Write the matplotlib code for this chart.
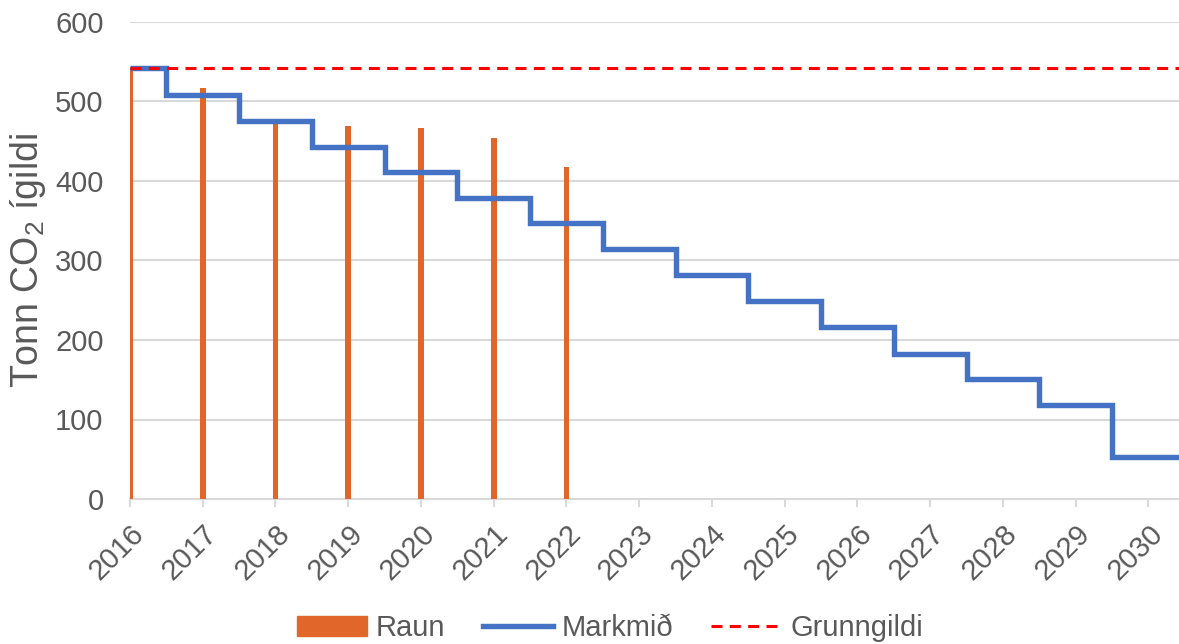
import numpy as np
import matplotlib
matplotlib.use("Agg")
import matplotlib.pyplot as plt
from matplotlib.patches import Patch
from matplotlib.lines import Line2D

plt.rcParams['font.family'] = ['Liberation Sans', 'DejaVu Sans']
plt.rcParams['mathtext.fontset'] = 'custom'
plt.rcParams['mathtext.rm'] = 'Liberation Sans'

years = np.arange(2016, 2031)
raun_years = np.arange(2016, 2023)
raun = [542, 517, 473, 469, 467, 454, 418]
markmid = [542, 508, 476, 443, 411, 379, 347, 314, 282, 249, 216, 183, 151, 118, 53]
grunngildi = 542

yticks = [0, 100, 200, 300, 400, 500, 600]

GRAY = '#595959'
fig = plt.figure(figsize=(11.79, 6.44), dpi=100)
ax = fig.add_axes([130/1179, (644-499)/644, 1 - 130/1179, (499-22)/644])

xmax = 2030.42
ax.set_xlim(2016, xmax)
ax.set_ylim(0, 600)

for y in yticks[1:]:
    ax.axhline(y, color='#d9d9d9', lw=1.5, zorder=0)

ax.bar(raun_years, raun, width=0.08, color='#E0662A', zorder=2)

edges = np.r_[years[0], years[:-1] + 0.5, xmax + 0.5]
ax.stairs(markmid, edges, baseline=None, color='#4472C4', lw=3.9, zorder=3)

dash = (0, (3.6, 2.4))
ax.axhline(grunngildi, color='#FF0000', lw=2.2, ls=dash, zorder=4)

for s in ['left', 'right', 'top']:
    ax.spines[s].set_visible(False)
ax.spines['bottom'].set_color('#d9d9d9')
ax.spines['bottom'].set_linewidth(1.5)
ax.spines['bottom'].set_zorder(1)

ax.set_xticks(years)
ax.set_xticklabels([str(y) for y in years], rotation=45, ha='right',
                   rotation_mode='anchor', fontsize=21, color=GRAY)
ax.tick_params(axis='x', length=6, width=1.5, color='#d9d9d9', pad=9)
ax.set_yticks(yticks)
ax.set_yticklabels([str(y) for y in yticks], fontsize=21, color=GRAY)
ax.tick_params(axis='y', length=0, pad=19)

ax.set_ylabel(r'Tonn CO$_\mathregular{2}$ ígildi', fontsize=27, color=GRAY, labelpad=5)

handles = [Patch(color='#E0662A'),
           Line2D([0], [0], color='#4472C4', lw=3.9),
           Line2D([0], [0], color='#FF0000', lw=2.2, ls=dash)]
fig.legend(handles, ['Raun', 'Markmið', 'Grunngildi'], loc='center',
           bbox_to_anchor=(610/1179, 1 - 628/644), ncol=3, frameon=False,
           fontsize=21, labelcolor=GRAY, handlelength=2.4,
           handletextpad=0.3, columnspacing=1.3)

fig.savefig('out.png', dpi=100)
